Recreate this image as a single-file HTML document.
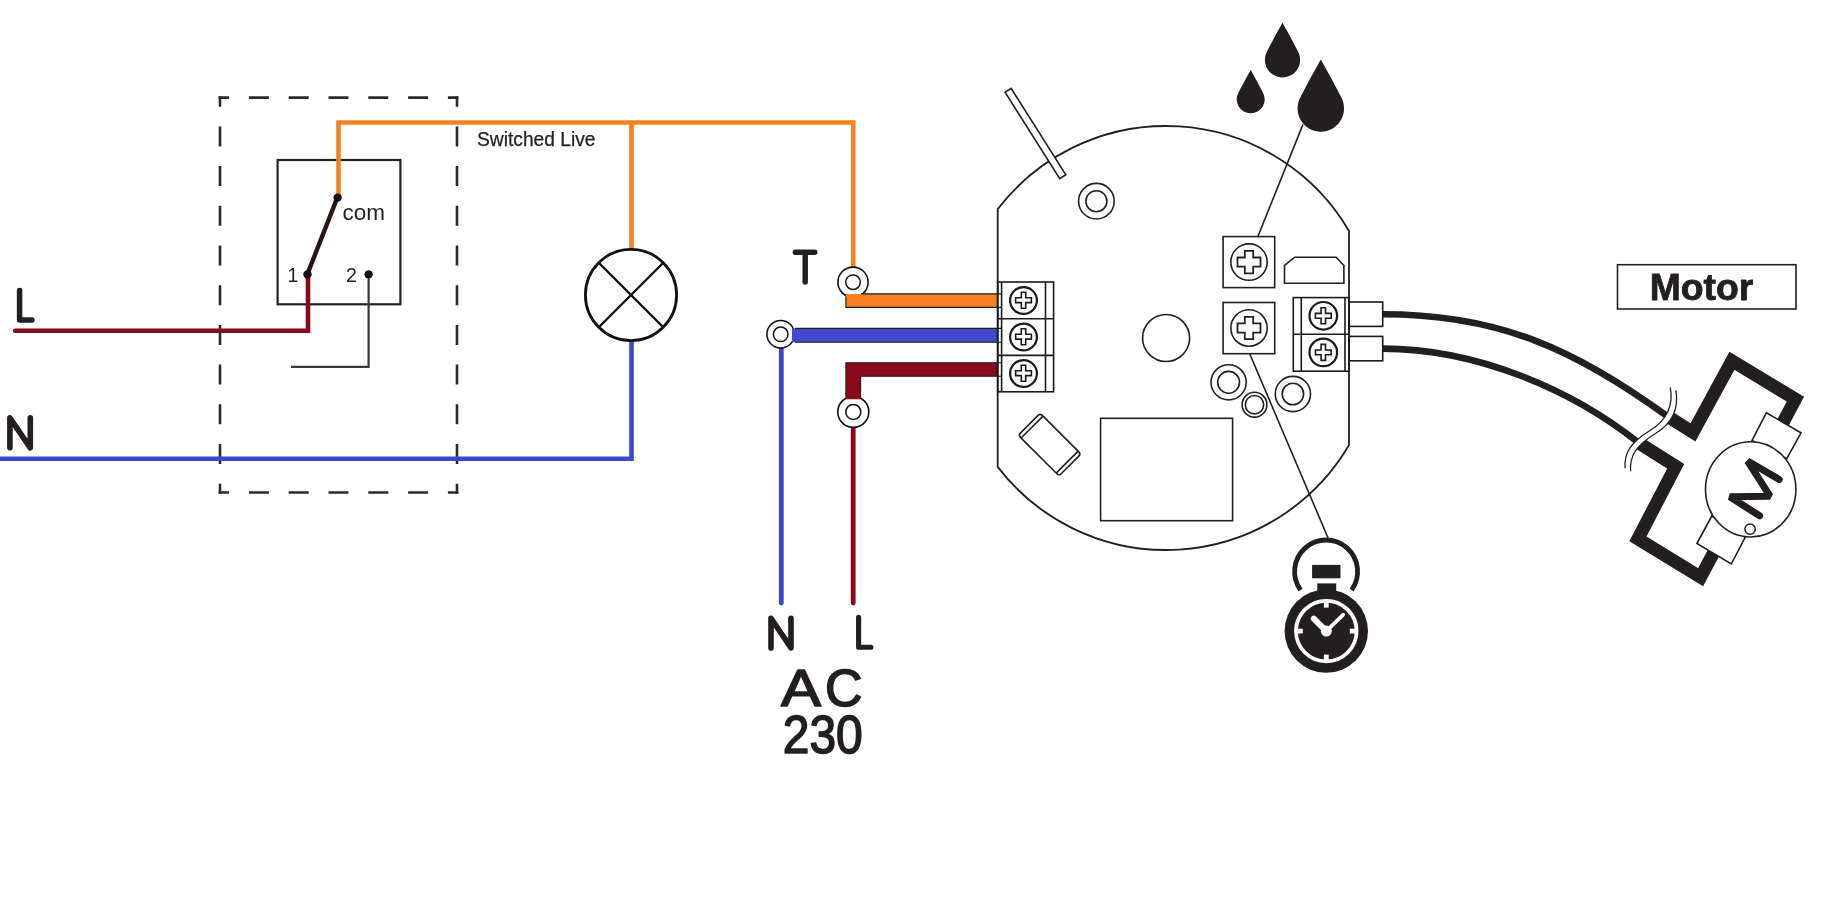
<!DOCTYPE html>
<html><head><meta charset="utf-8">
<style>
html,body{margin:0;padding:0;background:#fff;}
body{width:1848px;height:902px;overflow:hidden;}
svg{display:block;will-change:transform;}
text{font-family:"Liberation Sans",sans-serif;}
</style></head>
<body>
<svg width="1848" height="902" viewBox="0 0 1848 902">
<defs>
<path id="plus" d="M-2.2,-8 H2.2 V-2.4 H7.9 V2.4 H2.2 V8 H-2.2 V2.4 H-7.9 V-2.4 H-2.2 Z"/>
<path id="plusL" d="M-4.2,-11.2 H4.2 V-4.6 H11.5 V4.6 H4.2 V11.2 H-4.2 V4.6 H-11.5 V-4.6 H-4.2 Z"/>
</defs>
<rect width="1848" height="902" fill="#fff"/>

<!-- ===== dashed enclosure ===== -->
<g stroke="#2a2a2a" stroke-width="2.6" fill="none">
<line x1="218.7" y1="97.6" x2="458.3" y2="97.6" stroke-dasharray="20 19.8" stroke-dashoffset="9.6"/>
<line x1="218.7" y1="492.5" x2="458.3" y2="492.5" stroke-dasharray="20 19.8" stroke-dashoffset="9.6"/>
<line x1="220" y1="96.3" x2="220" y2="493.8" stroke-dasharray="20 19.7" stroke-dashoffset="9.6"/>
<line x1="457" y1="96.3" x2="457" y2="493.8" stroke-dasharray="20 19.7" stroke-dashoffset="9.6"/>
</g>

<!-- switch box -->
<rect x="277.6" y="160" width="122.8" height="144.3" fill="none" stroke="#222" stroke-width="2.2"/>

<!-- wires thin -->
<path d="M338.5 197.6 V122.5 H853.3 V268" fill="none" stroke="#F6821F" stroke-width="4.6"/>
<path d="M631.5 122.5 V249" fill="none" stroke="#F6821F" stroke-width="4.6"/>
<path d="M15.2 330.7 H308 V274.4" fill="none" stroke="#8A0A1C" stroke-width="4.6" stroke-linecap="round" stroke-linejoin="miter"/>
<path d="M368.6 274.4 V366.8 H291" fill="none" stroke="#3a3a3a" stroke-width="2.2"/>
<path d="M0 458.8 H631.5 V340" fill="none" stroke="#3F48CC" stroke-width="4.6"/>
<path d="M781.3 340 V603" fill="none" stroke="#3F48CC" stroke-width="4.8" stroke-linecap="round"/>
<path d="M853.2 420 V603" fill="none" stroke="#8A0A1C" stroke-width="4.8" stroke-linecap="round"/>

<!-- lever & dots -->
<line x1="337.3" y1="197.6" x2="307.3" y2="274.4" stroke="#2a1416" stroke-width="4.4"/>
<circle cx="337.6" cy="197.6" r="4.2" fill="#111"/>
<circle cx="307.5" cy="274.4" r="4.2" fill="#111"/>
<circle cx="368.6" cy="274.4" r="4.2" fill="#111"/>
<text x="342.5" y="220.2" font-size="22.5" fill="#222">com</text>
<text x="287.5" y="282" font-size="19.5" fill="#222">1</text>
<text x="346" y="282" font-size="19.5" fill="#222">2</text>

<!-- lamp -->
<g stroke="#111" fill="none">
<circle cx="631" cy="295" r="45.6" stroke-width="2.8"/>
<line x1="599" y1="263" x2="663" y2="327" stroke-width="2.4"/>
<line x1="663" y1="263" x2="599" y2="327" stroke-width="2.4"/>
</g>

<text x="477" y="146" font-size="20" fill="#222" stroke="#222" stroke-width="0.25" textLength="118.5" lengthAdjust="spacingAndGlyphs">Switched Live</text>

<!-- labels -->
<g fill="none" stroke="#231f20" stroke-linecap="round" stroke-linejoin="round">
<path d="M19.6 290.5 V320.1 H31.8" stroke-width="5.5"/>
<path d="M9.9 447.8 V417.9 L30.3 447.8 V417.9" stroke-width="5.6"/>
<path d="M771 647.9 V618.3 L791 647.9 V618.3" stroke-width="5.6"/>
<path d="M858.6 617.4 V647.3 H870.9" stroke-width="5.1"/>
</g>
<g fill="#231f20" stroke="#231f20" stroke-width="1.6" stroke-linejoin="round">
<text x="780.9" y="706.3" font-size="52" textLength="40" lengthAdjust="spacingAndGlyphs">A</text>
<text x="825" y="706.3" font-size="52" textLength="37.5" lengthAdjust="spacingAndGlyphs">C</text>
<text x="782.8" y="752.7" font-size="53" textLength="80" lengthAdjust="spacingAndGlyphs">230</text>
</g>

<path d="M795.3 252.3 H814.8 M805.2 253 V282" fill="none" stroke="#231f20" stroke-width="5.4" stroke-linecap="round"/>
<!-- rings -->
<g fill="#fff" stroke="#111" stroke-width="1.6">
<circle cx="853" cy="282.2" r="15.1"/>
<circle cx="780.7" cy="334.3" r="13.8"/>
<circle cx="853.3" cy="411.9" r="15.5"/>
</g>
<g fill="none" stroke="#111" stroke-width="1.5">
<circle cx="853" cy="282.2" r="7.3"/>
<circle cx="780.7" cy="334.3" r="7.3"/>
<circle cx="853.3" cy="411.9" r="7.5"/>
</g>
<!-- thick wires -->
<path d="M997.7 293.9 H845.9 V307.4 H997.7 Z" fill="#F6821F"/>
<path d="M997.7 328.4 H792 V342.2 H997.7 Z" fill="#4349C8"/>
<path d="M997.7 362.7 H845.9 V399.3 H860.6 V376.3 H997.7 Z" fill="#8A0A1C"/>
<g stroke="#1c1c1c" stroke-width="1.1" fill="none">
<path d="M861 293.9 H1001.6 M845.9 296.5 V307.4 H1001.6"/>
<path d="M795 328.4 H1001.6 M795 342.2 H1001.6"/>
<path d="M845.9 397.6 V362.7 H1001.6 M860.6 397.6 V376.3 H1001.6"/>
</g>

<!-- ===== board ===== -->
<g fill="none" stroke="#231f20" stroke-width="1.8">
<path d="M997.7 209.1 A212 212 0 0 1 1349 231 L1349 445 A212 212 0 0 1 997.7 466.9 Z"/>
</g>
<rect x="-51.1" y="-3.6" width="102.2" height="7.2" transform="translate(1035.45 133.5) rotate(57.7)" fill="#fff" stroke="#231f20" stroke-width="1.6"/>
<g fill="none" stroke="#231f20" stroke-width="1.6">
<circle cx="1096.4" cy="201.2" r="17.8"/>
<circle cx="1096.4" cy="201.2" r="10.5"/>
<circle cx="1166.1" cy="338" r="23.5"/>
<circle cx="1228.6" cy="382.3" r="17.6"/>
<circle cx="1228.6" cy="382.3" r="10.9"/>
<circle cx="1254.5" cy="404.7" r="12.4"/>
<circle cx="1254.5" cy="404.7" r="9.2"/>
<circle cx="1292.9" cy="394" r="17.6"/>
<circle cx="1292.9" cy="394" r="10.7"/>
<rect x="1100.6" y="418.3" width="132" height="102.4"/>
<rect x="1223.1" y="236.6" width="51.6" height="51"/>
<rect x="1223.1" y="302.5" width="51.6" height="51.2"/>
<circle cx="1249" cy="262.1" r="18.2"/>
<circle cx="1249" cy="328" r="18.2"/>
<path d="M1284.5 283.2 V265.5 L1294.7 257.2 H1336.1 L1343.9 265.5 V283.2 Z"/>
<line x1="1303" y1="124.4" x2="1257.7" y2="237"/>
<line x1="1249.7" y1="353.7" x2="1328.5" y2="539"/>
</g>
<g fill="none" stroke="#231f20" stroke-width="1.8">
<use href="#plusL" x="1249" y="262.1"/>
<use href="#plusL" x="1249" y="328"/>
</g>
<!-- capacitor -->
<g transform="translate(1049.6 444.6) rotate(45)" fill="#fff" stroke="#231f20" stroke-width="1.6">
<rect x="-28.8" y="-15.5" width="57.6" height="31" rx="3"/>
<line x1="-24.8" y1="-15.5" x2="-24.8" y2="15.5"/>
<line x1="24.8" y1="-15.5" x2="24.8" y2="15.5"/>
</g>

<!-- left terminal block -->
<g fill="none" stroke="#1a1a1a" stroke-width="1.6">
<rect x="997.7" y="282" width="55.9" height="109.8"/>
<line x1="997.7" y1="318.8" x2="1053.6" y2="318.8"/>
<line x1="997.7" y1="355.4" x2="1053.6" y2="355.4"/>
<line x1="1001.6" y1="282" x2="1001.6" y2="391.8"/>
<line x1="1045.5" y1="282" x2="1045.5" y2="391.8"/>
<circle cx="1023.5" cy="300.5" r="13.4" stroke-width="2.2"/>
<circle cx="1023.5" cy="337" r="13.4" stroke-width="2.2"/>
<circle cx="1023.5" cy="373.5" r="13.4" stroke-width="2.2"/>
<use href="#plus" x="1023.5" y="300.2"/>
<use href="#plus" x="1023.5" y="336.7"/>
<use href="#plus" x="1023.5" y="373.2"/>
</g>
<!-- right terminal block -->
<g fill="none" stroke="#1a1a1a" stroke-width="1.6">
<rect x="1293.3" y="297.6" width="55.5" height="73.6"/>
<line x1="1293.3" y1="334.2" x2="1348.8" y2="334.2"/>
<line x1="1301.3" y1="297.6" x2="1301.3" y2="371.2"/>
<line x1="1345" y1="297.6" x2="1345" y2="371.2"/>
<circle cx="1323.3" cy="315.8" r="13.8" stroke-width="2.2"/>
<circle cx="1323.3" cy="352.4" r="13.8" stroke-width="2.2"/>
<use href="#plus" x="1323.3" y="315.8"/>
<use href="#plus" x="1323.3" y="352.4"/>
<rect x="1348.8" y="302" width="33.9" height="24.4"/>
<rect x="1348.8" y="336.4" width="33.9" height="24.4"/>
</g>

<!-- drops -->
<g fill="#231f20">
<path id="drop" d="M0 -29.4 Q6 -19 12.3 -6.67 A14 14 0 1 1 -12.3 -6.67 Q-6 -19 0 -29.4 Z" transform="translate(1250.7 99.3)"/>
<path d="M0 -29.4 Q6 -19 12.3 -6.67 A14 14 0 1 1 -12.3 -6.67 Q-6 -19 0 -29.4 Z" transform="translate(1282.5 59.8) scale(1.257)"/>
<path d="M0 -29.4 Q6 -19 12.3 -6.67 A14 14 0 1 1 -12.3 -6.67 Q-6 -19 0 -29.4 Z" transform="translate(1320.8 108.4) scale(1.66)"/>
</g>

<!-- timer -->
<g>
<path d="M1300.6 590 A31.5 31.5 0 1 1 1351.6 590" fill="none" stroke="#231f20" stroke-width="4.8"/>
<rect x="1312.1" y="564.9" width="28.4" height="13.4" fill="#231f20"/>
<rect x="1317.3" y="583.4" width="18.9" height="12" fill="#231f20"/>
<circle cx="1326.3" cy="631.1" r="41.7" fill="#231f20"/>
<circle cx="1326.3" cy="631.1" r="30.3" fill="none" stroke="#fff" stroke-width="3.8"/>
<g fill="#fff" transform="translate(1326.3 631.1)">
<rect x="-2.4" y="-29" width="4.8" height="5.5"/>
<rect x="-2.4" y="23.5" width="4.8" height="5.5"/>
<rect x="-29" y="-2.4" width="5.5" height="4.8"/>
<rect x="23.5" y="-2.4" width="5.5" height="4.8"/>
<line x1="0" y1="0" x2="-12.5" y2="-12.5" stroke="#fff" stroke-width="6" stroke-linecap="round"/>
<line x1="0" y1="0" x2="17" y2="-16.5" stroke="#fff" stroke-width="3.6" stroke-linecap="round"/>
<circle cx="0" cy="0" r="5.5"/>
</g>
</g>

<!-- motor label -->
<rect x="1617.5" y="264.7" width="178.5" height="44.3" fill="none" stroke="#231f20" stroke-width="1.6"/>
<text x="1649.8" y="299.9" font-size="37.5" font-weight="bold" fill="#231f20" stroke="#231f20" stroke-width="0.8" stroke-linejoin="round" textLength="103.5" lengthAdjust="spacingAndGlyphs">Motor</text>

<!-- motor wires -->
<g fill="none" stroke="#231f20" stroke-width="6.6">
<path d="M1382.7 314.3 C1500.3 314.3, 1576.7 350.4, 1667 416"/>
<path d="M1382.7 348.6 C1476.6 348.6, 1571.9 389.7, 1638.5 442.7"/>
</g>
<path d="M1667 416 L1693 432.4 L1731.9 360.8 L1795.4 399.2 L1700.6 577.2 L1637.9 538.9 L1675.7 466.2 L1638.5 442.7" fill="none" stroke="#231f20" stroke-width="13" stroke-linejoin="miter"/>
<!-- break symbol -->
<path d="M1670.3 387.3 C1673 402, 1670 418, 1650 430.5 C1630 443, 1624 453, 1625.1 468.3 L1630.6 471.3 C1629.5 456, 1635.5 446, 1655.5 433.5 C1675.5 421, 1678.5 405, 1675.8 390.3 Z" fill="#fff"/>
<g fill="none" stroke="#231f20" stroke-width="1.3">
<path d="M1670.3 387.3 C1673 402, 1670 418, 1650 430.5 C1630 443, 1624 453, 1625.1 468.3"/>
<path d="M1675.8 390.3 C1678.5 405, 1675.5 421, 1655.5 433.5 C1635.5 446, 1629.5 456, 1630.6 471.3"/>
</g>
<!-- motor body -->
<g fill="#fff" stroke="#231f20" stroke-width="1.6">
<polygon points="1766.3,412.8 1801,432.8 1786.8,458.6 1752.1,440.5"/>
<polygon points="1711.8,516 1745.2,537.3 1731.3,564 1696.9,543.5"/>
<ellipse cx="1750.7" cy="489.4" rx="45.2" ry="47.6"/>
</g>
<path d="M1759.6 515.8 L1729.8 496.8 L1770 496.2 L1747.6 461 L1779.2 479.4" fill="none" stroke="#231f20" stroke-width="7" stroke-linecap="round" stroke-linejoin="bevel"/>
<circle cx="1750.1" cy="529.1" r="5.2" fill="#fff" stroke="#231f20" stroke-width="1.5"/>

</svg>
</body></html>
